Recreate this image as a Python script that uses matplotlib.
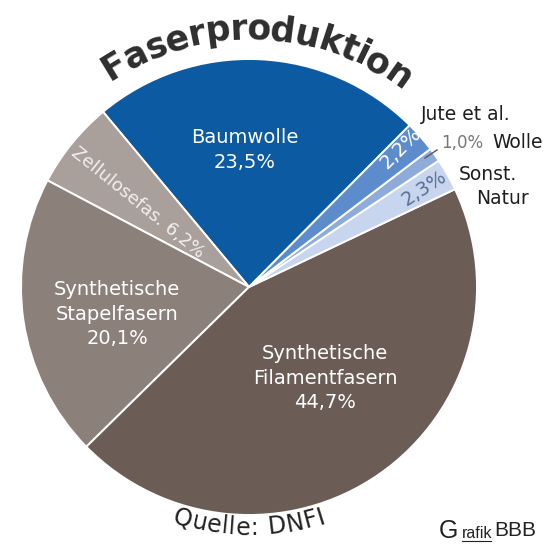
import numpy as np
import matplotlib
matplotlib.use("Agg")
import matplotlib.pyplot as plt
from matplotlib.font_manager import FontProperties
from matplotlib.textpath import TextToPath

# data (shares of world fibre production, %)
labels = ["Baumwolle", "Zellulosefas.", "Synthetische Stapelfasern",
          "Synthetische Filamentfasern", "Sonst. Natur", "Wolle", "Jute et al."]
shares = [23.5, 6.2, 20.1, 44.7, 2.3, 1.0, 2.2]
colors = ["#0c5ba2", "#a9a09c", "#8c807b", "#6b5d56", "#c8d5ee", "#8eabd9", "#5d8ccc"]

title = "Faserproduktion"
source = "Quelle: DNFI"

W, H = 543, 552
CX, CY, R = 249, 287, 228


def py(y):
    # image pixel row -> data y
    return H - y


fig = plt.figure(figsize=(W / 100, H / 100), dpi=100)
ax = fig.add_axes([0, 0, 1, 1])

ax.pie(shares, colors=colors, startangle=45.2, counterclock=True,
       center=(CX, py(CY)), radius=R,
       wedgeprops=dict(edgecolor="white", linewidth=1.4))
ax.set_xlim(0, W)
ax.set_ylim(0, H)
ax.set_aspect("equal")
ax.axis("off")


def arc_text(text, radius, mid_angle, fontsize, weight, color, top=True, spacing=1.0):
    fp = FontProperties(family="DejaVu Sans", size=fontsize, weight=weight)
    ttp = TextToPath()
    widths = []
    for ch in text:
        w, _, _ = ttp.get_text_width_height_descent(ch if ch != " " else "n", fp, ismath=False)
        widths.append(w * 100 / 72 * (0.6 if ch == " " else 1.0) * spacing)
    total = sum(widths)
    pos = -total / 2
    for ch, w in zip(text, widths):
        off = (pos + w / 2) / radius
        pos += w
        if top:
            ang = np.radians(mid_angle) - off
            rot = np.degrees(ang) - 90
        else:
            ang = np.radians(mid_angle) + off
            rot = np.degrees(ang) + 90
        x = CX + radius * np.cos(ang)
        y = py(CY) + radius * np.sin(ang)
        ax.text(x, y, ch, fontproperties=fp, color=color, rotation=rot,
                rotation_mode="anchor", ha="center", va="center")


arc_text(title, 258, 88, 25, "bold", "#2e2e2e", top=True)
arc_text(source, 241, 270, 17, "normal", "#222222", top=False, spacing=1.03)

lab = dict(color="white", fontsize=14, ha="center", va="center", linespacing=1.35)
ax.text(245, py(150), "Baumwolle\n23,5%", **lab)
ax.text(117, py(314), "Synthetische\nStapelfasern\n20,1%", **lab)
ax.text(325, py(378), "Synthetische\nFilamentfasern\n44,7%", **lab)
ax.text(138, py(203), "Zellulosefas. 6,2%", color="#f2efee", fontsize=13,
        rotation=-39, ha="center", va="center", rotation_mode="anchor")
ax.text(401, py(148), "2,2%", color="white", fontsize=14,
        rotation=45, ha="center", va="center", rotation_mode="anchor")
ax.text(424, py(188), "2,3%", color="#5b6f97", fontsize=14,
        rotation=33, ha="center", va="center", rotation_mode="anchor")

ax.text(466, py(115), "Jute et al.", color="#1e1e1e", fontsize=13.5,
        ha="center", va="center")
ax.plot([425, 437], [py(158), py(150)], color="#555555", lw=1)
ax.text(441, py(143), "1,0%", color="#777777", fontsize=12,
        ha="left", va="center")
ax.text(543, py(143), "Wolle", color="#1e1e1e", fontsize=13.5,
        ha="right", va="center")
ax.text(488, py(175), "Sonst.", color="#1e1e1e", fontsize=13.5,
        ha="center", va="center")
ax.text(503, py(198), "Natur", color="#1e1e1e", fontsize=13.5,
        ha="center", va="center")

# credit
ax.text(439, py(531), "G", color="#222222", fontsize=18, family="Liberation Sans",
        ha="left", va="center")
ax.text(462, py(533), "rafik", color="#222222", fontsize=11.5, family="Liberation Sans",
        ha="left", va="center")
ax.plot([462, 491], [py(541), py(541)], color="#222222", lw=0.8)
ax.text(494, py(531), "BBB", color="#222222", fontsize=15, family="Liberation Sans",
        ha="left", va="center")

fig.savefig("out.png", dpi=100)
